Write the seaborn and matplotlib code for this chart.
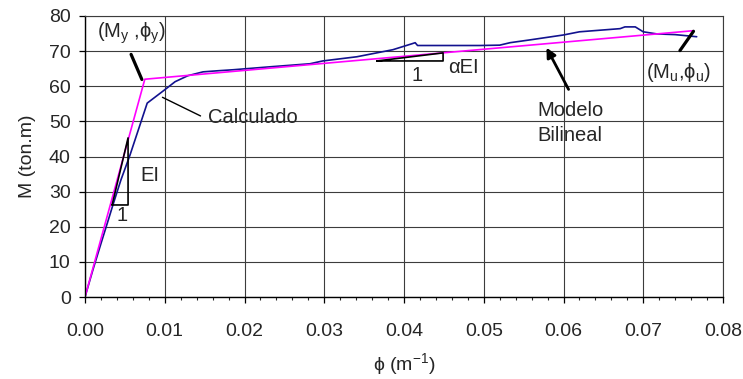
import matplotlib
matplotlib.use("Agg")
import matplotlib.pyplot as plt
import matplotlib.ticker as mticker
import seaborn as sns
import pandas as pd

# curva calculada (momento-curvatura)
calc_phi = [0, 0.001, 0.002, 0.003, 0.0035, 0.0045, 0.00564, 0.0078,
            0.0100, 0.0113, 0.0129, 0.0148, 0.0166, 0.0186, 0.0230, 0.0282, 0.0298,
            0.0341, 0.0386, 0.0410, 0.0414, 0.0417, 0.0495, 0.0520, 0.0533, 0.0558,
            0.0600, 0.0620, 0.0671, 0.0677, 0.0690, 0.0700, 0.0717, 0.0740, 0.0767]
calc_M = [0, 7.8, 15.2, 22.5, 26.2, 33.3, 40.4, 55.2,
          59.0, 61.3, 63, 64.1, 64.4, 64.7, 65.5, 66.4, 67.2,
          68.4, 70.4, 72.1, 72.4, 71.6, 71.6, 71.7, 72.4, 73.2,
          74.6, 75.5, 76.4, 76.9, 76.9, 75.5, 74.9, 74.7, 74.1]

# modelo bilineal
bil_phi = [0, 0.0075, 0.0762]
bil_M = [0, 62, 75.8]

x_ticks = [0.00, 0.01, 0.02, 0.03, 0.04, 0.05, 0.06, 0.07, 0.08]
y_ticks = [0, 10, 20, 30, 40, 50, 60, 70, 80]

df_calc = pd.DataFrame({'phi': calc_phi, 'M': calc_M})
df_bil = pd.DataFrame({'phi': bil_phi, 'M': bil_M})

sns.set_style('ticks')
plt.rcParams['font.family'] = ['Liberation Sans', 'DejaVu Sans']
plt.rcParams['mathtext.default'] = 'regular'

fig, ax = plt.subplots(figsize=(7.43, 3.79), dpi=100)
fig.subplots_adjust(left=85/743, right=723/743, top=1-16/379, bottom=1-297/379)

sns.lineplot(data=df_calc, x='phi', y='M', sort=False, color='#12128f', lw=1.2, ax=ax)
sns.lineplot(data=df_bil, x='phi', y='M', sort=False, color='#ff00ff', lw=1.2, ax=ax)

ax.set_xlim(0, 0.08)
ax.set_ylim(0, 80)
ax.set_xticks(x_ticks)
ax.set_yticks(y_ticks)
ax.xaxis.set_minor_locator(mticker.MultipleLocator(0.002))
ax.xaxis.set_major_formatter(mticker.FormatStrFormatter('%.2f'))
ax.grid(True, which='major', color='#3c3c3c', lw=0.8)
ax.set_axisbelow(True)
for s in ['top', 'right']:
    ax.spines[s].set_color('#3c3c3c')
    ax.spines[s].set_linewidth(0.8)
for s in ['left', 'bottom']:
    ax.spines[s].set_color('black')
    ax.spines[s].set_linewidth(1.0)
ax.tick_params(axis='both', which='major', direction='out', length=4.3, width=0.9,
               labelsize=14, color='black')
ax.tick_params(axis='x', which='major', pad=14.5)
ax.tick_params(axis='y', which='major', pad=6)
ax.tick_params(axis='x', which='minor', direction='out', length=2.3, width=0.8)

ax.set_xlabel('ϕ (m$^{-1}$)', fontsize=14, labelpad=8)
ax.set_ylabel('M (ton.m)', fontsize=14, labelpad=9.5)

fs = 14.5
# punto de fluencia
ax.annotate('', xy=(0.00727, 61.2), xytext=(0.00564, 69.8),
            arrowprops=dict(arrowstyle='-', color='black', lw=2.3))
ax.text(0.0015, 75.2, '(M$_{y}$ ,ϕ$_{y}$)', fontsize=fs, va='center', ha='left')

# punto ultimo
ax.annotate('', xy=(0.0765, 76.3), xytext=(0.0744, 69.5),
            arrowprops=dict(arrowstyle='-', color='black', lw=2.3))
ax.text(0.07035, 63.8, '(M$_{u}$,ϕ$_{u}$)', fontsize=fs, va='center', ha='left')

# Calculado
ax.annotate('', xy=(0.0094, 57.2), xytext=(0.0148, 51.2),
            arrowprops=dict(arrowstyle='-', color='black', lw=1.0))
ax.text(0.01542, 51.0, 'Calculado', fontsize=fs, va='center', ha='left')

# Modelo bilineal
ax.annotate('', xy=(0.0577, 71.7), xytext=(0.0608, 58.4),
            arrowprops=dict(arrowstyle='-|>', color='black', lw=2.0, mutation_scale=14))
ax.text(0.0567, 49.4, 'Modelo\nBilineal', fontsize=fs, va='center', ha='left',
        linespacing=1.4)

# triangulo EI
ax.plot([0.0034, 0.0054, 0.0054, 0.0034], [26.2, 26.2, 45.3, 26.2], color='black', lw=1.2)
ax.text(0.00464, 23.3, '1', fontsize=fs, va='center', ha='center')
ax.text(0.0069, 34.7, 'EI', fontsize=fs, va='center', ha='left')

# triangulo alpha EI
ax.plot([0.0366, 0.0449, 0.0449, 0.0366], [67.2, 67.2, 69.5, 67.2], color='black', lw=1.2)
ax.text(0.0416, 63.2, '1', fontsize=fs, va='center', ha='center')
ax.text(0.0455, 65.2, 'αEI', fontsize=fs, va='center', ha='left')

fig.savefig('out.png', dpi=100)
